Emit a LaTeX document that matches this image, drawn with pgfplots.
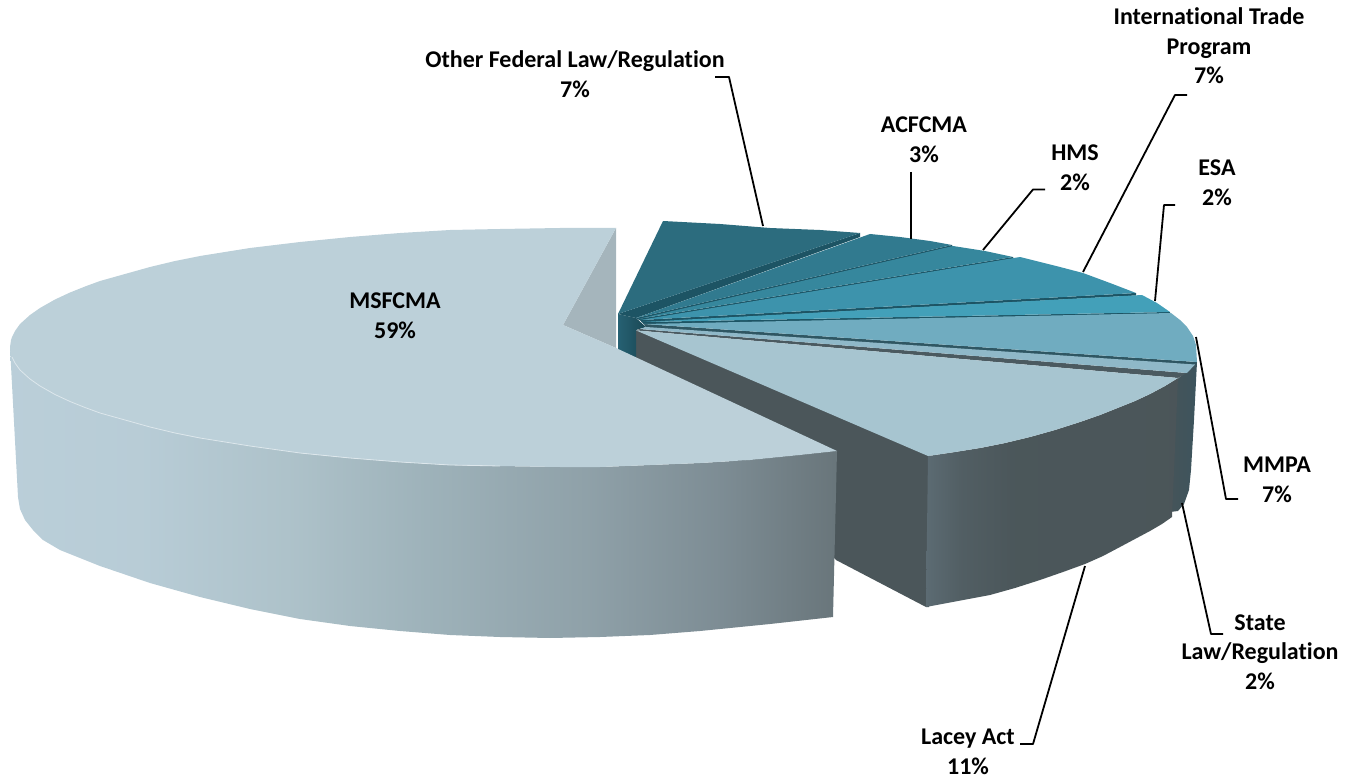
\documentclass[border=0pt]{standalone}
\usepackage{pgfplots}
\pgfplotsset{compat=1.18}
\usepackage{fontspec}
\setmainfont[Ligatures=NoCommon]{Carlito}
\definecolor{c1}{HTML}{2C6C7E}
\definecolor{c2}{HTML}{317A8F}
\definecolor{c3}{HTML}{36879D}
\definecolor{c4}{HTML}{3D93AC}
\definecolor{c5}{HTML}{43A0B9}
\definecolor{c6}{HTML}{70ACC0}
\definecolor{c7}{HTML}{8FB8C8}
\definecolor{c8}{HTML}{A7C5D0}
\definecolor{c9}{HTML}{BCD0D9}
\definecolor{band}{HTML}{1D5464}
\definecolor{gband}{HTML}{4B5A60}
\definecolor{wall}{HTML}{4B565A}
\definecolor{notch}{HTML}{A5B5BC}
\pgfdeclarehorizontalshading{mswall}{100bp}{
 rgb(0bp)=(0.73,0.81,0.85);
 rgb(25bp)=(0.73,0.81,0.85);
 rgb(33bp)=(0.72,0.80,0.84);
 rgb(42bp)=(0.68,0.76,0.79);
 rgb(50bp)=(0.62,0.70,0.73);
 rgb(60bp)=(0.56,0.63,0.66);
 rgb(68bp)=(0.49,0.55,0.58);
 rgb(75bp)=(0.41,0.46,0.48);
 rgb(100bp)=(0.41,0.46,0.48)}
\pgfdeclarehorizontalshading{lwall}{100bp}{
 rgb(0bp)=(0.36,0.42,0.45);
 rgb(25bp)=(0.36,0.42,0.45);
 rgb(32bp)=(0.32,0.37,0.39);
 rgb(42bp)=(0.295,0.34,0.355);
 rgb(75bp)=(0.295,0.335,0.35);
 rgb(100bp)=(0.295,0.335,0.35)}
\pgfdeclarehorizontalshading{swall}{100bp}{
 rgb(0bp)=(0.27,0.33,0.35);
 rgb(25bp)=(0.27,0.33,0.35);
 rgb(60bp)=(0.25,0.33,0.36);
 rgb(75bp)=(0.23,0.33,0.37);
 rgb(100bp)=(0.23,0.33,0.37)}
\pgfdeclarehorizontalshading{block}{100bp}{
 rgb(0bp)=(0.15,0.38,0.45);
 rgb(25bp)=(0.15,0.38,0.45);
 rgb(75bp)=(0.10,0.28,0.33);
 rgb(100bp)=(0.10,0.28,0.33)}
\begin{document}
\begin{tikzpicture}
\begin{axis}[
  scale only axis, width=678pt, height=390.5pt,
  xmin=0, xmax=1356, ymin=0, ymax=781, y dir=reverse,
  axis lines=none, clip=false,
  every axis plot/.append style={no markers, line join=round},
]
\path (axis cs:0,0) rectangle (axis cs:1356,781);
% state side wall
\addplot[draw=none, shade, shading=swall] coordinates {(1197,362)(1193,364)(1185,373)(1176,380)(1170,512)(1178,511)(1184,504)(1189,490)(1191,470)(1194,420)};
% Lacey inner wall
\addplot[draw=none, fill=wall] coordinates {(636,330)(931,456)(929,607)(926,607)(836,560)(636,358)};
% Lacey outer wall
\addplot[draw=none, shade, shading=lwall] coordinates {(928,456)(955,452)(980,448)(1005,443)(1030,437)(1055,430)(1080,422)(1100,415)(1120,407)(1135,401)(1150,394)(1165,386)(1178,378)(1172,517)(1162,524)(1150,531)(1135,539)(1120,547)(1103,556)(1085,564)(1063,572)(1040,580)(1015,588)(990,595)(958,601)(926,607)};
% dark block at apex
\addplot[draw=none, shade, shading=block] coordinates {(618,314)(636,318)(646,327)(636,330)(636,358)(618,350)};
% bands
\addplot[draw=none, fill=band] coordinates {(618,314)(860,233)(860,237)(636,318)};
\addplot[draw=none, fill=band] coordinates {(636,318)(952,245)(953,247.5)(638,319.5)};
\addplot[draw=none, fill=band] coordinates {(638,319)(1013,257)(1014,259.5)(640,320.5)};
\addplot[draw=none, fill=band] coordinates {(640,320)(1136,293)(1136,295.5)(642,322.5)};
\addplot[draw=none, fill=band] coordinates {(642,322)(1170,312)(1170,314.5)(644,324.5)};
\addplot[draw=none, fill=band!60!gband] coordinates {(644,324)(1197,362)(1195,365)(646,327.5)};
\addplot[draw=none, fill=gband] coordinates {(640,329)(1187,373)(1178,378)(636,330.4)};
% slices
\addplot[draw=none, fill=c1] coordinates {(618,314)(663,221)(720,224)(770,228)(820,230)(860,233)};
\addplot[draw=none, fill=c2] coordinates {(636,318)(870,234)(900,237)(930,241)(952,245)};
\addplot[draw=none, fill=c3] coordinates {(638,319)(953,246)(985,251)(1013,257)};
\addplot[draw=none, fill=c4] coordinates {(640,320)(1020,257)(1060,267)(1083,273)(1110,283)(1136,293)};
\addplot[draw=none, fill=c5] coordinates {(642,322)(1142,295)(1157,303)(1170,312)};
\addplot[draw=none, fill=c6] coordinates {(644,324)(1171,313)(1180,320)(1187,327)(1193,336)(1196,345)(1197,362)};
\addplot[draw=none, fill=c7] coordinates {(646,327)(1195,364.5)(1187,373)(640,329)};
\addplot[draw=none, fill=c8] coordinates {(636,330.4)(1178,378)(1165,386)(1150,394)(1135,401)(1120,407)(1100,415)(1080,422)(1055,430)(1030,437)(1005,443)(980,448)(955,452)(928,456)};
% MSFCMA wall
\addplot[draw=none, shade, shading=mswall] coordinates {(10,347)(18,497)(20,509)(25,520)(33,530)(43,540)(60,550)(80,558)(100,566)(150,583)(200,597)(250,609)(300,619)(350,626)(400,631)(450,635)(500,637)(550,638)(600,637)(650,635)(700,631)(770,624)(833,617)(837,451)(800,455)(750,460)(700,463)(650,465)(600,467)(560,467)(500,466)(450,465)(400,462)(350,458)(300,453)};
% notch
\addplot[draw=none, fill=notch] coordinates {(616,228)(563,325)(616,348)};
% MSFCMA top
\addplot[draw=none, fill=c9] coordinates {(616,228)(563,325)(616,348)(837,451)(800,455)(750,460)(700,463)(650,465)(600,467)(560,467)(500,466)(450,465)(400,462)(350,458)(300,453)(250,446)(200,438)(175,433)(150,427)(125,420)(100,413)(85,407.5)(70,401.5)(55,394.5)(40,386)(30,379)(20,370)(15,363)(12,357)(11,354)(10,347)(11,340)(12,337)(15,331)(20,324)(30,315)(40,308)(55,299.5)(70,292.5)(85,286.5)(100,281)(125,274)(150,267)(175,261)(200,256)(250,248)(300,242)(350,237)(400,233)(450,230)(500,229)(560,228)};
% highlight on the front rim
\addplot[color=c9!50!white, line width=0.4pt] coordinates {(12,357)(15,363)(20,370)(30,379)(40,386)(55,394.5)(70,401.5)(85,407.5)(100,413)(125,420)(150,427)(175,433)(200,438)(250,446)(300,453)(350,458)(400,462)(450,465)(500,466)};
% leaders
\addplot[black, line width=0.9pt] coordinates {(715,77)(729,77)(763,226)};
\addplot[black, line width=0.9pt] coordinates {(911,172)(911,239)};
\addplot[black, line width=0.9pt] coordinates {(1045,189.5)(1033,189.5)(983,250)};
\addplot[black, line width=0.9pt] coordinates {(1187,95)(1175,95)(1083,272)};
\addplot[black, line width=0.9pt] coordinates {(1175,205)(1164,205)(1155,301)};
\addplot[black, line width=0.9pt] coordinates {(1196,337)(1226,499)(1238,499)};
\addplot[black, line width=0.9pt] coordinates {(1182,503)(1211,634)(1223,634)};
\addplot[black, line width=0.9pt] coordinates {(1085,566)(1033,744)(1020,744)};
% labels
\tikzset{lab/.style={align=center, font=\fontsize{12}{14.8}\selectfont\bfseries, inner sep=0pt}}
\node[lab] at (axis cs:575,74) {Other Federal Law/Regulation\\7\%};
\node[lab] at (axis cs:924,140) {ACFCMA\\3\%};
\node[lab] at (axis cs:1075,168) {HMS\\2\%};
\node[lab] at (axis cs:1209,46) {International Trade\\Program\\7\%};
\node[lab] at (axis cs:1217,183) {ESA\\2\%};
\node[lab] at (axis cs:1277,480) {MMPA\\7\%};
\node[lab] at (axis cs:1260,652) {State\\Law/Regulation\\2\%};
\node[lab] at (axis cs:968,752) {Lacey Act\\11\%};
\node[lab] at (axis cs:395,316) {MSFCMA\\59\%};
\end{axis}
\end{tikzpicture}
\end{document}
